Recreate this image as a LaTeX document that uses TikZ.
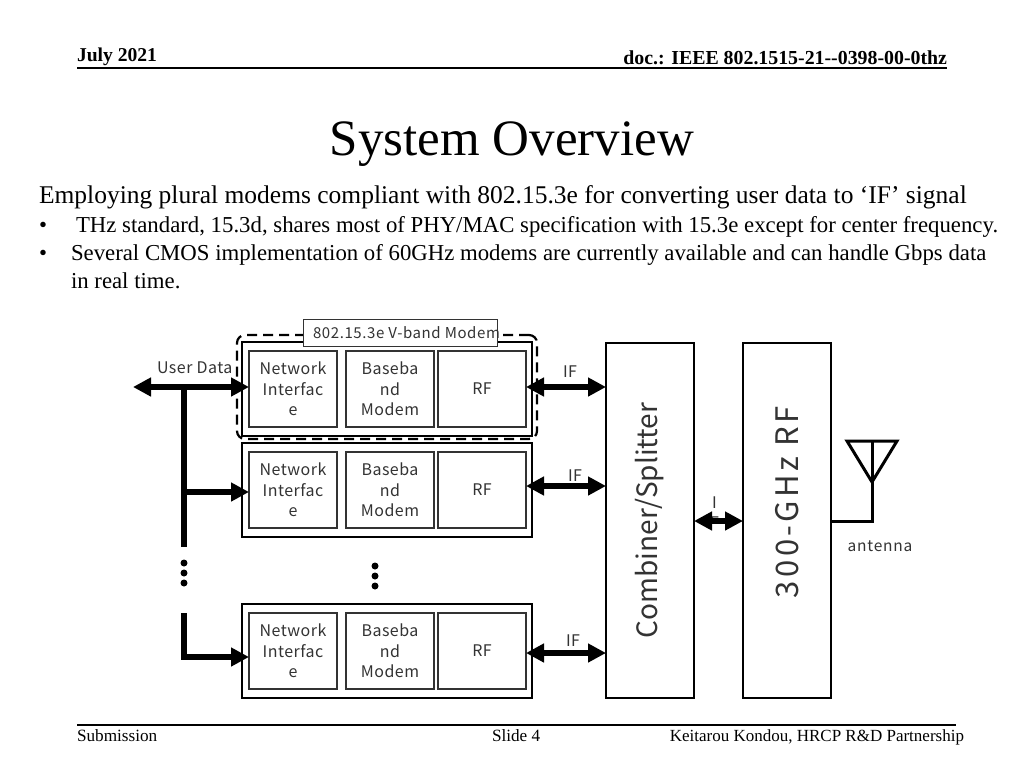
\documentclass[tikz,border=0pt]{standalone}
\usepackage{fontspec}
\setmainfont{Liberation Serif}
\newfontfamily\diag[LetterSpace=3]{Noto Sans CJK JP}
\newfontfamily\diagmid[LetterSpace=4]{Noto Sans CJK JP}
\newfontfamily\diagant[LetterSpace=5]{Noto Sans CJK JP}
\newfontfamily\diagcomb{Noto Sans CJK JP}
\newfontfamily\diagwide[LetterSpace=11]{Noto Sans CJK JP}
\usetikzlibrary{arrows.meta,calc}
\definecolor{ink}{HTML}{333333}
\newcommand{\sz}[2]{\fontsize{#1}{#2}\selectfont}
\tikzset{
  x=1pt,y=-1pt,
  page/.style={inner sep=0pt,outer sep=0pt,text=black,anchor=base west},
  inner box/.style={draw=ink,line width=1.8pt,fill=white,minimum width=88pt,minimum height=76pt,inner sep=0pt,outer sep=0pt,
    align=center,text=ink,font=\diag\sz{16}{20.5}},
  modem/.style={draw=black,line width=2.2pt,fill=white,minimum width=290pt,minimum height=94pt,inner sep=0pt,outer sep=0pt},
  tall/.style={draw=black,line width=2.2pt,fill=white,minimum width=88pt,minimum height=355pt,inner sep=0pt,outer sep=0pt,text=ink},
  lbl/.style={text=ink,font=\diag\sz{16}{20},inner sep=0pt,outer sep=0pt,align=center},
  bus/.style={line width=6pt,black},
  both/.style={bus,{Triangle[length=18pt,width=18pt]}-{Triangle[length=18pt,width=18pt]}},
  to box/.style={bus,-{Triangle[length=18pt,width=18pt]}},
  dotmark/.style={circle,fill=black,minimum size=7pt,inner sep=0pt,outer sep=0pt},
}
\begin{document}
\begin{tikzpicture}
\useasboundingbox (0,0) rectangle (1024,768);
\fill[white] (0,0) rectangle (1024,768);
% header and footer
\node[page,font=\bfseries\sz{19.6}{22}] (date) at (77,61) {July 2021};
\node[page,anchor=base east,font=\bfseries\sz{19.85}{22}] (doc) at (947,64) {doc.: IEEE 802.1515-21{-}{-}0398-00-0thz};
\coordinate (rtl) at (77,68); \coordinate (rtr) at (947,68);
\draw[line width=1.2pt] (rtl) -- (rtr);
\coordinate (rbl) at (77,725); \coordinate (rbr) at (956,725);
\draw[line width=1.2pt] (rbl) -- (rbr);
\node[page,font=\sz{17.2}{18}] (sub) at (77,741) {Submission};
\node[page,font=\sz{17.2}{18}] (slide) at (492,741) {Slide 4};
\node[page,anchor=base east,font=\sz{17}{18}] (auth) at (964,741) {Keitarou Kondou, HRCP R\&D Partnership};
% title and body
\node[page,anchor=base,font=\sz{51}{60}] (title) at (512,155) {System Overview};
\node[page,font=\sz{25.5}{28}] (l1) at (39,203) {Employing plural modems compliant with 802.15.3e for converting user data to ‘IF’ signal};
\node[page,font=\sz{22.78}{24}] (b1) at (39,232) {•};
\node[page,font=\sz{22.78}{24}] (l2) at (76,232) {THz standard, 15.3d, shares most of PHY/MAC specification with 15.3e except for center frequency.};
\node[page,font=\sz{22.78}{24}] (b2) at (39,260) {•};
\node[page,font=\sz{22.78}{24}] (l3) at (71,260) {Several CMOS implementation of 60GHz modems are currently available and can handle Gbps data};
\node[page,font=\sz{22.78}{24}] (l4) at (71,288) {in real time.};
% modems
\node[modem] (m1) at (387,389) {};
\node[modem] (m2) at (387,490) {};
\node[modem] (m3) at (387,651) {};
\foreach \n/\y in {1/389,2/490,3/651}{
  \node[inner box] (ni\n) at (293,\y) {Network\\Interfac\\e};
  \node[inner box] (bb\n) at (390,\y) {Baseba\\nd\\Modem};
  \node[inner box] (rf\n) at (482,\y) {RF};
}
% dashed group
\node[draw=black,line width=2.2pt,dash pattern=on 10pt off 6pt,rounded corners=8pt,minimum width=300pt,minimum height=104pt,inner sep=0pt] (grp) at (387,387) {};
\node[draw=ink,line width=1pt,fill=white,minimum width=194pt,minimum height=27pt,inner sep=0pt,text=ink,font=\diagmid\sz{15}{18}] (vband) at (400,332.5) {\makebox[194pt][l]{\hspace{10pt}802.15.3e V-band Modem}};
% tall blocks
\node[tall] (comb) at (650,520.5) {};
\node[tall] (thz) at (787,520.5) {};
\node[text=ink,font=\diagcomb\sz{28}{32},rotate=90,inner sep=0pt] (combt) at (650,520.5) {Combiner/Splitter};
\node[text=ink,font=\diagwide\sz{31}{32},rotate=90,inner sep=0pt] (thzt) at (787,502) {300-GHz RF};
% user data bus
\coordinate (udl) at (133,387);
\coordinate (j1) at (184,387);
\coordinate (j1b) at (184,547);
\coordinate (j2) at (184,492);
\coordinate (j3t) at (184,613);
\coordinate (j3) at (184,657);
\draw[both] (udl) -- (ni1.west |- udl);
\draw[bus] (j1) -- (j1b);
\draw[to box] (j2) -- (ni2.west |- j2);
\draw[to box,line join=miter] (j3t) -- (j3) -- (ni3.west |- j3);
\node[lbl,anchor=west] (ud) at (157,368) {User Data};
\foreach \i/\y in {a/563,b/573,c/583}{\node[dotmark] (da\i) at (184,\y) {};}
\foreach \i/\y in {a/566,b/576,c/586}{\node[dotmark] (db\i) at (375,\y) {};}
% IF links
\draw[both] ([yshift=2pt]rf1.east) -- (comb.west |- 0,387);
\draw[both] ([yshift=4pt]rf2.east) -- (comb.west |- 0,486);
\draw[both] ([yshift=-2pt]rf3.east) -- (comb.west |- 0,653);
\node[lbl] (if1) at (570,372) {IF};
\node[lbl] (if2) at (575,476) {IF};
\node[lbl] (if3) at (573,641) {IF};
\begin{scope}
\clip (700,490) rectangle (730,520);
\node[lbl] (if4) at (714.5,513) {I\\F};
\end{scope}
\draw[both] (comb.east |- 0,521) -- (thz.west |- 0,521);
% antenna
\coordinate (at) at (872,441); \coordinate (ata) at (872,482);
\coordinate (atl) at (847,441); \coordinate (atr) at (897,441);
\coordinate (afoot) at (872,521);
\draw[line width=3pt,black,line join=miter] (atl) -- (atr) -- (ata) -- cycle;
\draw[line width=3pt,black,line join=miter] (at) -- (afoot) -- (thz.east |- afoot);
\node[lbl,font=\diagant\sz{15.5}{18}] (ant) at (880,546) {antenna};
\end{tikzpicture}
\end{document}
